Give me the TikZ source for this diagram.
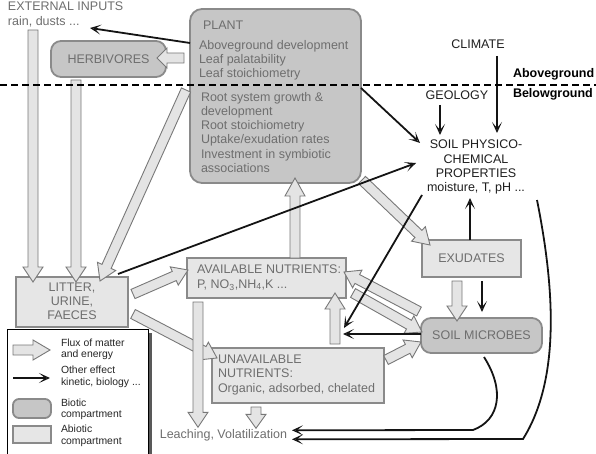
\documentclass[tikz,border=0pt]{standalone}
\usepackage{fontspec}
\setmainfont{Liberation Sans}
\usetikzlibrary{calc,arrows.meta,shadows}
\definecolor{biofill}{HTML}{C6C6C6}
\definecolor{abiofill}{HTML}{E6E6E6}
\definecolor{boxline}{HTML}{8A8A8A}
\definecolor{fluxfill}{HTML}{E4E4E4}
\definecolor{fluxline}{HTML}{787878}
\definecolor{boxtext}{HTML}{6E6E6E}
\definecolor{darktext}{HTML}{1E1E1E}
\newcommand\dgmfont{\fontsize{12.5}{14.3}\selectfont}
\newcommand\legfont{\fontsize{10.4}{11.6}\selectfont}
\newcommand\flux[3][15pt]{%
  \coordinate (fa) at #2;
  \coordinate (fb) at #3;
  \coordinate (fh) at ($(fb)!#1!(fa)$);
  \draw[fluxstyle] ($(fa)!5pt!90:(fb)$) -- ($(fh)!5pt!90:(fb)$) -- ($(fh)!10pt!90:(fb)$) -- (fb)
     -- ($(fh)!10pt!-90:(fb)$) -- ($(fh)!5pt!-90:(fb)$) -- ($(fa)!5pt!-90:(fb)$) -- cycle;%
}
\tikzset{
  every node/.style={inner sep=0pt, outer sep=0pt},
  biotic/.style={draw=boxline, fill=biofill, line width=1.8pt, rounded corners=10pt},
  abiotic/.style={draw=boxline, fill=abiofill, line width=1.8pt},
  boxtxt/.style={text=boxtext, font=\dgmfont},
  blocktxt/.style={text=boxtext, font=\dgmfont, align=left, execute at begin node=\strut, execute at end node=\strut},
  darkblock/.style={text=darktext, font=\dgmfont, align=center, execute at begin node=\strut, execute at end node=\strut},
  darktxt/.style={text=darktext, font=\dgmfont},
  boldtxt/.style={text=black, font=\dgmfont\bfseries},
  legtxt/.style={text=black!85, font=\legfont, align=left, execute at begin node=\strut, execute at end node=\strut, anchor=north west},
  effect/.style={draw=black!92, line width=1.8pt, -{Stealth[open,length=11pt,width=10pt,inset=6pt,line width=1pt]}},
  fluxstyle/.style={draw=fluxline, fill=fluxfill, line width=0.9pt, line join=miter},
  groundline/.style={draw=black, line width=2.5pt, dash pattern=on 7pt off 4pt},
  legendbox/.style={draw=black, fill=white, line width=0.9pt, general shadow={fill=black!65, shadow xshift=4pt, shadow yshift=-4pt}},
}
\begin{document}
\begin{tikzpicture}[x=1pt,y=-1pt]
\useasboundingbox (0,0) rectangle (596,454);
\clip (0,0) rectangle (596,454);
% boxes
\node[biotic, rounded corners=12pt, minimum width=171pt, minimum height=174pt] (plant) at (275.5,96) {};
\node[biotic, minimum width=115pt, minimum height=36pt, boxtxt] (herb) at (108.5,59) {HERBIVORES};
\node[abiotic, minimum width=112pt, minimum height=50pt] (litter) at (72,302) {};
\node[abiotic, minimum width=159pt, minimum height=40pt] (avail) at (266.5,278) {};
\node[abiotic, minimum width=172pt, minimum height=55pt] (unavail) at (298,375.5) {};
\node[abiotic, minimum width=99pt, minimum height=37pt, boxtxt] (exud) at (471.5,258.5) {EXUDATES};
\node[biotic, minimum width=121pt, minimum height=35pt, boxtxt] (micro) at (481.5,335.5) {SOIL MICROBES};
% texts
\node[blocktxt, anchor=north west] (plantname) at (203,19) {PLANT};
\node[blocktxt, anchor=north west] (plantabove) at (199,40) {Aboveground development\\Leaf palatability\\Leaf stoichiometry};
\node[blocktxt, anchor=north west] (plantbelow) at (201,92) {Root system growth \&\\development\\Root stoichiometry\\Uptake/exudation rates\\Investment in symbiotic\\associations};
\node[blocktxt, anchor=north west] (ext) at (8,2) {EXTERNAL INPUTS\\rain, dusts ...};
\node[blocktxt, anchor=north, align=center] (littertxt) at (72,282.7) {LITTER,\\URINE,\\FAECES};
\node[blocktxt, anchor=north west] (availtxt) at (197,265) {AVAILABLE NUTRIENTS:\\P, NO\textsubscript{3},NH\textsubscript{4},K ...};
\node[blocktxt, anchor=north west] (unavailtxt) at (218,355) {UNAVAILABLE\\NUTRIENTS:\\Organic, adsorbed, chelated};
\node[darkblock, anchor=north] (soil) at (476,140) {SOIL PHYSICO-\\CHEMICAL\\PROPERTIES\\moisture, T, pH ...};
\node[darktxt, anchor=base] (climate) at (478,48.5) {CLIMATE};
\node[darktxt, anchor=base] (geology) at (457,100) {GEOLOGY};
\node[boldtxt, anchor=base west] (above) at (513,78) {Aboveground};
\node[boldtxt, anchor=base west] (below) at (513,98) {Belowground};
\node[boxtxt, anchor=base east] (leach) at (287,438.3) {Leaching, Volatilization};
% legend
\node[legendbox, anchor=north west, minimum width=141pt, minimum height=150pt] (legend) at (7,329) {};
\node[biotic, rounded corners=6pt, minimum width=38pt, minimum height=19pt] (legbio) at (32,408.5) {};
\node[abiotic, minimum width=38pt, minimum height=17pt] (legabio) at (32,434.5) {};
\node[legtxt] (legflux) at (61,338.6) {Flux of matter\\and energy};
\node[legtxt] (legeff) at (61,365.9) {Other effect\\kinetic, biology ...};
\node[legtxt] (legbiot) at (61,398.6) {Biotic\\compartment};
\node[legtxt] (legabiot) at (61,425.2) {Abiotic\\compartment};
\flux[17pt]{($(legend.north west)+(6,21)$)}{($(legend.north west)+(43,21)$)}
\draw[effect] ($(legend.north west)+(6,49)$) -- ($(legend.north west)+(43,49)$);
% flux arrows
\coordinate (extin) at ($(ext.north west)+(25,28)$);
\flux{(extin)}{($(litter.north)+(-39,5)$)}
\flux{($(herb.south)+(-32.5,3)$)}{($(litter.north)+(4,5)$)}
\flux[16pt]{($(plant.west)+(-4,-6)$)}{($(litter.north)+(28,4)$)}
\flux[10pt]{($(plant.west)+(-6,-38)$)}{($(herb.east)+(-9,-1)$)}
\flux[18pt]{($(avail.north)+(28.5,0)$)}{($(plant.south)+(19.5,-5)$)}
\flux{($(litter.east)+(5,-8)$)}{($(avail.west)+(1,-8)$)}
\flux{($(litter.east)+(5,12)$)}{($(unavail.west)+(5,-17.5)$)}
\flux{($(avail.south)+(-68.5,4)$)}{($(leach.base east)+(-89,-11)$)}
\flux[14pt]{($(unavail.south)+(-42,4)$)}{($(leach.base east)+(-31,-10)$)}
\flux[16pt]{($(unavail.north)+(37,-4)$)}{($(avail.south)+(68.5,-5)$)}
\flux[16pt]{($(plant.south east)+(1,-3)$)}{($(exud.north west)+(8,5)$)}
\flux{($(micro.west)+(-2,-24)$)}{($(avail.east)+(-2,-6)$)}
\flux{($(avail.east)+(7,15)$)}{($(micro.west)+(1,-3.5)$)}
\flux{($(unavail.east)+(2,-15.5)$)}{($(micro.west)+(0,6.5)$)}
\flux{($(exud.south)+(-14.5,4)$)}{($(micro.north)+(-24.5,3)$)}
% effect arrows
\coordinate (raintip) at ($(ext.north west)+(82,26)$);
\draw[effect] ($(plant.west)+(0,-53)$) -- (raintip);
\draw[effect] ($(climate.base)+(19,7.5)$) -- ($(soil.north)+(21,-7)$);
\draw[effect] ($(geology.base)+(-17,5)$) -- ($(soil.north)+(-36,-5)$);
\draw[effect] ($(plant.east)+(0,-8)$) -- ($(soil.north)+(-56,3)$);
\draw[effect] ($(litter.north east)+(-10,-3)$) -- ($(soil.north)+(-60,23)$);
\draw[effect] ($(exud.north)+(-1.5,0)$) -- ($(soil.north)+(-6,58)$);
\draw[effect] ($(soil.north)+(-54,55)$) -- ($(unavail.north)+(46,-20)$);
\draw[effect] ($(micro.west)+(0,-1.5)$) -- ($(unavail.north)+(45,-14)$);
\draw[effect] ($(exud.south)+(10.5,4)$) -- ($(micro.north)+(0.5,-6)$);
\draw[effect] ($(micro.south)+(2.5,4)$) .. controls (505,390) and (500,420) .. (473,430) -- ($(leach.base east)+(5,-8)$);
\draw[effect] ($(soil.north)+(61,60)$) .. controls (555,290) and (560,380) .. (523,439) -- ($(leach.base east)+(5,1)$);
% ground line
\draw[groundline] (0,85) -- (596,85);
\end{tikzpicture}
\end{document}
